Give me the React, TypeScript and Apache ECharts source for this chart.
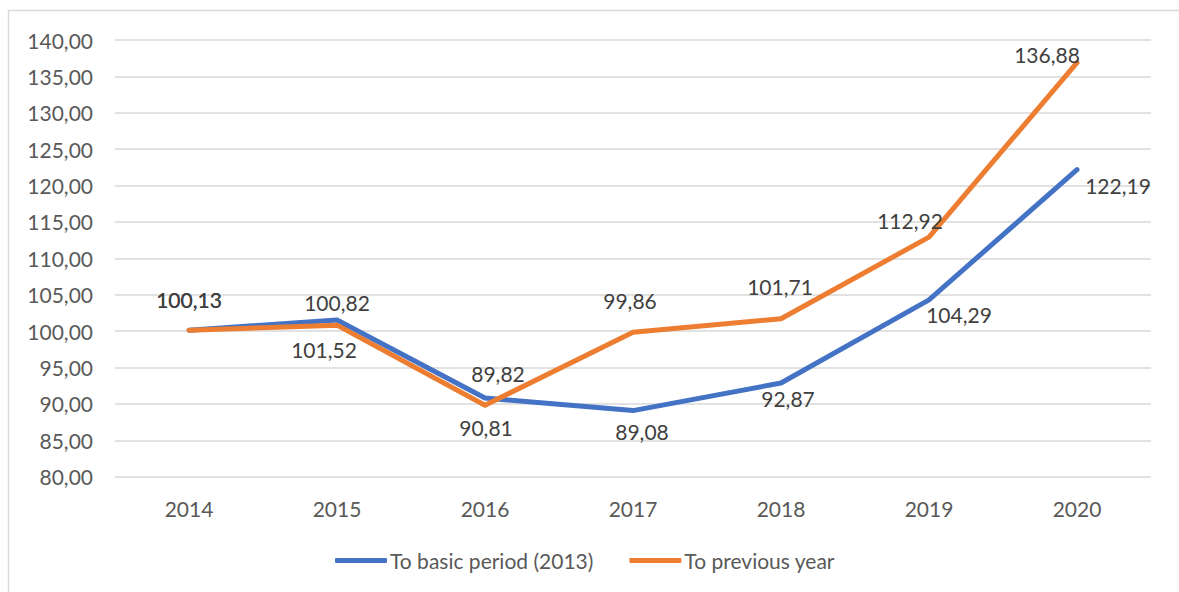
import React, { useEffect, useRef } from "react";
import * as echarts from "echarts";

const categories = ["2014", "2015", "2016", "2017", "2018", "2019", "2020"];
const basicPeriod = [100.13, 101.52, 90.81, 89.08, 92.87, 104.29, 122.19];
const previousYear = [100.13, 100.82, 89.82, 99.86, 101.71, 112.92, 136.88];
const seriesNames = ["To basic period (2013)", "To previous year"];

// label offsets (styling only)
const basicOffsets = [[0, -31], [-13, 29], [1, 29], [9, 21], [7, 15], [30, 15], [41, 16]];
const prevOffsets = [[0, -31], [0, -23], [13, -32], [-3, -32], [-1, -32], [-19, -17], [-30, -8]];

const FONT = "Lato";
const fmt = (v: number) => v.toFixed(2).replace(".", ",");

export default function App() {
  const ref = useRef<HTMLDivElement>(null);
  useEffect(() => {
    if (!ref.current) return;
    const chart = echarts.init(ref.current, null, { renderer: "svg" });
    const mk = (vals: number[], offs: number[][]) =>
      vals.map((v, i) => ({ value: v, label: { offset: offs[i] } }));
    chart.setOption({
      animation: false,
      backgroundColor: "#ffffff",
      textStyle: { fontFamily: FONT },
      graphic: [
        {
          type: "rect",
          shape: { x: 8.5, y: 10.5, width: 1300, height: 800 },
          style: { fill: "none", stroke: "#d9d9d9", lineWidth: 1.5 },
          silent: true,
          z: -1,
        },
      ],
      grid: { left: 115, right: 28, top: 40, bottom: 115.3, containLabel: false },
      xAxis: {
        type: "category",
        data: categories,
        boundaryGap: true,
        axisLine: { show: false },
        axisTick: { show: false },
        axisLabel: { color: "#595959", fontSize: 21, fontFamily: FONT, margin: 21 },
      },
      yAxis: {
        type: "value",
        min: 80,
        max: 140,
        interval: 5,
        axisLine: { show: false },
        axisTick: { show: false },
        splitLine: { lineStyle: { color: "#d9d9d9", width: 1.5 } },
        axisLabel: {
          color: "#595959",
          fontSize: 21,
          fontFamily: FONT,
          margin: 22,
          formatter: (v: number) => fmt(v),
        },
      },
      legend: {
        bottom: 16,
        left: 330,
        itemWidth: 52,
        itemHeight: 5,
        itemGap: 36,
        icon: "roundRect",
        textStyle: { color: "#595959", fontSize: 21, fontFamily: FONT, padding: [0, 0, 0, -2] },
        data: seriesNames,
      },
      series: [
        {
          name: seriesNames[0],
          type: "line",
          data: mk(basicPeriod, basicOffsets),
          symbol: "circle",
          symbolSize: 1,
          showSymbol: true,
          color: "#4472C4",
          lineStyle: { width: 5, cap: "round", join: "round", color: "#4472C4" },
          label: {
            show: true,
            position: "inside",
            color: "#404040",
            fontSize: 21,
            fontFamily: FONT,
            formatter: (p: any) => fmt(p.value),
          },
          z: 2,
        },
        {
          name: seriesNames[1],
          type: "line",
          data: mk(previousYear, prevOffsets),
          symbol: "circle",
          symbolSize: 1,
          showSymbol: true,
          color: "#ED7D31",
          lineStyle: { width: 5, cap: "round", join: "round", color: "#ED7D31" },
          label: {
            show: true,
            position: "inside",
            color: "#404040",
            fontSize: 21,
            fontFamily: FONT,
            formatter: (p: any) => fmt(p.value),
          },
          z: 3,
        },
      ],
    });
    return () => chart.dispose();
  }, []);
  return (
    <div
      ref={ref}
      style={{ position: "fixed", left: 0, top: 0, width: 1179, height: 592 }}
    />
  );
}
